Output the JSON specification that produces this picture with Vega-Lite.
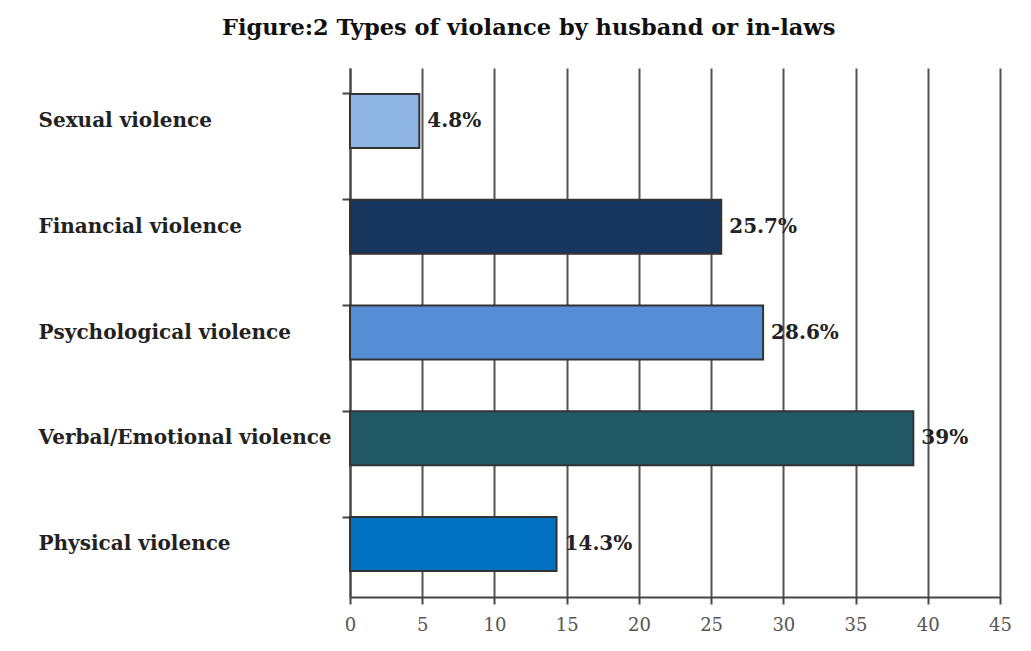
{
  "$schema": "https://vega.github.io/schema/vega-lite/v6.json",
  "width": 650,
  "height": 529,
  "autosize": {"type": "none"},
  "padding": {"left": 350, "top": 68, "right": 31, "bottom": 54},
  "background": "white",
  "title": {
    "text": "Figure:2 Types of violance by husband or in-laws",
    "font": "DejaVu Serif",
    "fontSize": 22.5,
    "fontWeight": "bold",
    "color": "#111",
    "anchor": "start",
    "frame": "group",
    "dx": -128,
    "offset": 29
  },
  "data": {
    "values": [
      {"type": "Sexual violence", "value": 4.8, "label": "4.8%"},
      {"type": "Financial violence", "value": 25.7, "label": "25.7%"},
      {"type": "Psychological violence", "value": 28.6, "label": "28.6%"},
      {"type": "Verbal/Emotional violence", "value": 39, "label": "39%"},
      {"type": "Physical violence", "value": 14.3, "label": "14.3%"}
    ]
  },
  "encoding": {
    "y": {
      "field": "type",
      "type": "nominal",
      "sort": null,
      "scale": {"paddingInner": 0.49, "paddingOuter": 0.245},
      "axis": {
        "title": null,
        "bandPosition": 0,
        "domainColor": "#444",
        "domainWidth": 2,
        "tickColor": "#444",
        "tickSize": 8,
        "tickWidth": 2,
        "labelAlign": "left",
        "labelPadding": 304,
        "labelLimit": 400,
        "labelFont": "DejaVu Serif",
        "labelFontSize": 20,
        "labelFontWeight": "bold",
        "labelColor": "#222",
        "grid": false
      }
    },
    "x": {
      "field": "value",
      "type": "quantitative",
      "scale": {"domain": [0, 45], "nice": false},
      "axis": {
        "title": null,
        "values": [0, 5, 10, 15, 20, 25, 30, 35, 40, 45],
        "grid": true,
        "gridColor": "#555",
        "gridWidth": 2,
        "gridOpacity": 1,
        "domainColor": "#444",
        "domainWidth": 2,
        "tickColor": "#444",
        "tickSize": 7,
        "tickWidth": 2,
        "labelPadding": 12,
        "labelFlush": false,
        "labelFont": "DejaVu Serif",
        "labelFontSize": 18,
        "labelColor": "#555"
      }
    }
  },
  "layer": [
    {
      "mark": {"type": "bar", "stroke": "#333", "strokeWidth": 2},
      "encoding": {
        "color": {
          "field": "type",
          "type": "nominal",
          "legend": null,
          "scale": {
            "domain": ["Sexual violence", "Financial violence", "Psychological violence", "Verbal/Emotional violence", "Physical violence"],
            "range": ["#8db4e2", "#17375e", "#558ed5", "#215967", "#0070c0"]
          }
        }
      }
    },
    {
      "mark": {
        "type": "text",
        "align": "left",
        "baseline": "middle",
        "dx": 8,
        "font": "DejaVu Serif",
        "fontSize": 20,
        "fontWeight": "bold",
        "color": "#222"
      },
      "encoding": {"text": {"field": "label"}}
    }
  ],
  "config": {"view": {"stroke": null}}
}
